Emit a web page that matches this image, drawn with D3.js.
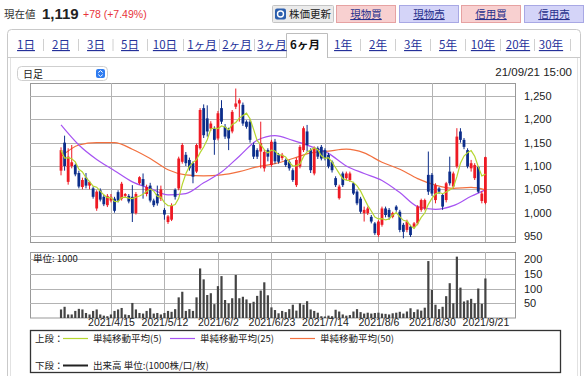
<!DOCTYPE html>
<html>
<head>
<meta charset="utf-8">
<script src="https://cdn.jsdelivr.net/npm/d3@7"></script>
<style>
  body { margin: 0; background: #fff; }
  svg { display: block; font-family: "Noto Sans CJK JP", sans-serif; }
</style>
</head>
<body>
<div id="chart"></div>
<script>
// daily candles, 2021/3/26 .. 2021/9/21 (index 0..119)
const opens = [1090,1150,1066,1100,1102,1085,1055,1075,1058,1052,1009,1048,1034,1016,1026,1030,1044,1030,1036,1036,
  1034,999,1063,1072,1040,1058,1026,1040,1030,1006,980,985,1049,1052,1109,1124,1113,1106,1088,1138,
  1224,1202,1180,1180,1159,1224,1184,1177,1174,1227,1234,1231,1195,1195,1145,1134,1131,1095,1134,1102,
  1152,1124,1117,1113,1109,1091,1059,1099,1134,1174,1134,1084,1138,1141,1134,1124,1109,1074,1031,1084,
  1074,1070,1063,1045,1030,999,999,991,977,952,974,1009,1006,991,1013,1002,974,963,970,970,
  977,1006,1009,1081,1081,1027,1052,1038,1027,1088,1056,1099,1174,1156,1134,1095,1074,1098,1025,1021];
const highs = [1140,1165,1138,1145,1105,1090,1075,1085,1068,1056,1048,1052,1038,1040,1040,1034,1048,1066,1042,1040,
  1059,1044,1078,1084,1060,1064,1030,1058,1058,1010,995,1020,1052,1120,1149,1130,1118,1110,1148,1224,
  1232,1230,1196,1185,1218,1241,1190,1182,1220,1266,1245,1236,1198,1200,1150,1138,1195,1135,1138,1156,
  1158,1128,1128,1116,1112,1095,1118,1145,1185,1188,1138,1142,1142,1145,1138,1128,1112,1078,1060,1088,
  1088,1088,1066,1048,1034,1013,1013,995,980,984,1013,1013,1010,1002,1016,1006,978,985,974,980,
  1016,1030,1030,1131,1085,1063,1055,1042,1066,1120,1088,1181,1181,1160,1138,1113,1106,1100,1046,1120];
const lows = [1080,1090,1060,1095,1078,1052,1050,1052,1050,1030,1004,1024,1014,1012,1022,1000,1022,1026,1032,1020,
  980,996,1060,1030,1035,1022,1012,1015,1025,985,976,982,1028,1048,1105,1100,1090,1063,1085,1135,
  1160,1163,1175,1124,1155,1190,1158,1134,1170,1222,1195,1186,1180,1150,1115,1115,1095,1088,1110,1098,
  1105,1105,1112,1098,1090,1066,1055,1095,1130,1131,1085,1080,1115,1112,1112,1095,1086,1055,1028,1055,
  1070,1066,1038,1016,998,981,995,977,952,948,970,990,985,988,1002,958,945,958,948,966,
  973,1002,1005,1038,1036,1020,1040,1006,1022,1058,1052,1095,1150,1136,1095,1088,1070,1042,1020,1018];
const closes = [1134,1100,1120,1108,1082,1056,1070,1058,1066,1034,1045,1028,1018,1036,1034,1004,1026,1062,1040,1024,
  999,1040,1076,1058,1055,1026,1016,1020,1050,996,992,1016,1034,1116,1145,1106,1095,1077,1145,1220,
  1166,1174,1191,1156,1213,1195,1163,1159,1216,1234,1241,1191,1184,1156,1120,1120,1149,1130,1120,1152,
  1110,1109,1124,1102,1095,1070,1113,1141,1181,1145,1091,1138,1120,1116,1116,1099,1091,1059,1056,1059,
  1084,1084,1041,1020,1002,1006,1009,981,956,981,1009,995,991,999,1006,963,959,981,952,977,
  1013,1027,1027,1045,1041,1059,1045,1013,1063,1063,1084,1163,1156,1141,1099,1106,1102,1045,1041,1119];
const volumes = [29,38,12,12,24,31,29,17,12,24,29,12,8,6,12,24,29,34,12,10,
  51,29,17,15,24,33,15,17,12,17,24,21,30,70,89,24,30,24,70,168,
  131,78,84,47,108,142,61,50,67,146,67,72,63,50,55,75,93,121,77,36,
  27,16,24,20,30,45,25,50,45,57,29,24,18,6,5,8,6,28,22,12,
  8,10,22,30,20,15,18,15,17,18,15,14,12,16,18,21,15,22,33,20,
  29,25,35,193,95,45,30,38,74,118,50,208,103,56,60,65,50,100,48,134];

// moving averages every 5 bars
const maIdx = [0,5,10,15,20,25,30,35,40,45,50,55,60,65,70,75,80,85,90,95,100,105,110,115,119];
const ma25 = [1188,1145,1114,1090,1066,1052,1038,1041,1064,1087,1121,1155,1165,1155,1142,1127,1100,1084,1069,1043,1013,1007,1015,1035,1049];
const ma50 = [1120,1145,1150,1150,1136,1116,1092,1081,1079,1081,1088,1098,1105,1116,1128,1132,1136,1128,1108,1093,1073,1059,1052,1054,1049];

const dateTickIdx = [14,29,44,59,74,89,104,119];
const dateTicks = ["2021/4/15","2021/5/12","2021/6/2","2021/6/23","2021/7/14","2021/8/6","2021/8/30","2021/9/21"];
const priceTicks = [950,1000,1050,1100,1150,1200,1250];
const volTicks = [50,100,150,200];

const periods = ["1日","2日","3日","5日","10日","1ヶ月","2ヶ月","3ヶ月","6ヶ月","1年","2年","3年","5年","10年","20年","30年"];
const periodX = [26,61,96,130,165,202,237,272,305,343,378,413,448,483,518,551];

const width = 586, height = 376;
const upColor = "#ee1a24", downColor = "#0c2d8a";
const numFont = "'Liberation Sans', Arial, sans-serif";

const svg = d3.select("#chart").append("svg")
  .attr("width", width).attr("height", height);

// ---- header ----
svg.append("text").attr("x", 4).attr("y", 18).attr("font-size", 10.5).attr("fill", "#333").text("現在値");
svg.append("text").attr("x", 42).attr("y", 19).attr("font-family", numFont).attr("font-weight", "bold")
  .attr("font-size", 15).attr("fill", "#222").text("1,119");
svg.append("text").attr("x", 83).attr("y", 18).attr("font-family", numFont)
  .attr("font-size", 10.5).attr("fill", "#e8333a").text("+78 (+7.49%)");

// refresh button
svg.append("rect").attr("x", 272.5).attr("y", 5.5).attr("width", 61).attr("height", 17).attr("rx", 1)
  .attr("fill", "#ebebeb").attr("stroke", "#c4c4c4");
svg.append("rect").attr("x", 275).attr("y", 8.5).attr("width", 11).attr("height", 11).attr("rx", 2).attr("fill", "#2c5fae");
svg.append("circle").attr("cx", 280.5).attr("cy", 14).attr("r", 3).attr("fill", "none").attr("stroke", "#fff").attr("stroke-width", 1.4);
svg.append("text").attr("x", 289).attr("y", 18).attr("font-size", 10.5).attr("fill", "#222").text("株価更新");

const buttons = [
  {label: "現物買", x: 336, kind: "buy"},
  {label: "現物売", x: 399, kind: "sell"},
  {label: "信用買", x: 461, kind: "buy"},
  {label: "信用売", x: 524, kind: "sell"}
];
const btn = svg.selectAll(".btn").data(buttons).enter().append("g").attr("class", "btn");
btn.append("rect").attr("x", d => d.x + 0.5).attr("y", 5.5).attr("width", 59).attr("height", 17)
  .attr("fill", d => d.kind === "buy" ? "#f8d0d0" : "#d4d4f8")
  .attr("stroke", d => d.kind === "buy" ? "#e6a2a2" : "#a8a8e4");
btn.append("text").attr("x", d => d.x + 30).attr("y", 18).attr("text-anchor", "middle")
  .attr("font-size", 10.5).attr("fill", "#27318c").attr("text-decoration", "underline").text(d => d.label);

// ---- frame and tabs ----
svg.append("rect").attr("x", 7.5).attr("y", 29.5).attr("width", 573).attr("height", 370).attr("rx", 4)
  .attr("fill", "#fff").attr("stroke", "#c9c9c9");
svg.append("line").attr("x1", 10.5).attr("x2", 10.5).attr("y1", 58).attr("y2", 376).attr("stroke", "#e2e2e2");
svg.append("line").attr("x1", 577.5).attr("x2", 577.5).attr("y1", 58).attr("y2", 376).attr("stroke", "#e2e2e2");
svg.append("path").attr("d", "M8,57.5H286.5M327.5,57.5H580").attr("stroke", "#c9c9c9");
svg.append("path").attr("d", "M286.5,58V33.5H327.5V58").attr("fill", "#fff").attr("stroke", "#bdbdbd");

periods.forEach((p, i) => {
  const sel = p === "6ヶ月";
  svg.append("text").attr("x", periodX[i]).attr("y", 49).attr("text-anchor", "middle")
    .attr("font-size", 11.5)
    .attr("font-weight", sel ? "bold" : "normal")
    .attr("fill", sel ? "#111" : "#25319a")
    .attr("text-decoration", sel ? "none" : "underline")
    .text(p);
  if (i < periods.length - 1 && i !== 7 && i !== 8) {
    svg.append("line").attr("x1", (periodX[i] + periodX[i + 1]) / 2).attr("x2", (periodX[i] + periodX[i + 1]) / 2)
      .attr("y1", 39).attr("y2", 51).attr("stroke", "#d0d0d0");
  }
});
svg.append("line").attr("x1", 570.5).attr("x2", 570.5).attr("y1", 39).attr("y2", 51).attr("stroke", "#d0d0d0");

// dropdown
svg.append("rect").attr("x", 17.5).attr("y", 66.5).attr("width", 90).attr("height", 14).attr("rx", 4)
  .attr("fill", "#fff").attr("stroke", "#cfcfcf");
svg.append("text").attr("x", 23).attr("y", 77.5).attr("font-size", 10).attr("fill", "#222").text("日足");
svg.append("rect").attr("x", 96).attr("y", 69).attr("width", 9).attr("height", 9).attr("rx", 2).attr("fill", "#2f7cf0");
svg.append("path").attr("d", "M98.3,72.6L100.5,70.6L102.7,72.6M98.3,74.6L100.5,76.6L102.7,74.6")
  .attr("fill", "none").attr("stroke", "#fff").attr("stroke-width", 1);
svg.append("text").attr("x", 572).attr("y", 76).attr("text-anchor", "end").attr("font-family", numFont)
  .attr("font-size", 11.5).attr("fill", "#222").text("21/09/21 15:00");

// ---- scales ----
const x = d3.scaleLinear().domain([-8.7, 127.3]).range([30, 515]);
const y = d3.scaleLinear().domain([950, 1250]).range([236, 96]);
const yv = d3.scaleLinear().domain([0, 200]).range([318, 259]);

const gridColor = "#b3b3b3";

// price panel
const pricePanel = svg.append("g");
pricePanel.append("rect").attr("x", 30.5).attr("y", 83.5).attr("width", 485).attr("height", 159)
  .attr("fill", "#fff").attr("stroke", "#999");
pricePanel.selectAll(".hg").data(priceTicks).enter().append("line")
  .attr("x1", 30).attr("x2", 515).attr("y1", d => Math.round(y(d)) + 0.5).attr("y2", d => Math.round(y(d)) + 0.5)
  .attr("stroke", gridColor);
pricePanel.selectAll(".vg").data(dateTickIdx).enter().append("line")
  .attr("x1", d => Math.round(x(d)) + 0.5).attr("x2", d => Math.round(x(d)) + 0.5)
  .attr("y1", 83).attr("y2", 242).attr("stroke", gridColor);

// volume panel
const volPanel = svg.append("g");
volPanel.append("rect").attr("x", 30.5).attr("y", 252.5).attr("width", 485).attr("height", 65.5)
  .attr("fill", "#fff").attr("stroke", "#999");
volPanel.selectAll(".hg").data(volTicks).enter().append("line")
  .attr("x1", 30).attr("x2", 515).attr("y1", d => Math.round(yv(d)) + 0.5).attr("y2", d => Math.round(yv(d)) + 0.5)
  .attr("stroke", gridColor);
volPanel.selectAll(".vg").data(dateTickIdx).enter().append("line")
  .attr("x1", d => Math.round(x(d)) + 0.5).attr("x2", d => Math.round(x(d)) + 0.5)
  .attr("y1", 252).attr("y2", 318).attr("stroke", gridColor);
volPanel.append("text").attr("x", 33).attr("y", 262).attr("font-size", 9.5).attr("fill", "#222").text("単位: 1000");

// axes
const priceAxis = svg.append("g").attr("transform", "translate(515,0)")
  .call(d3.axisRight(y).tickValues(priceTicks).tickSize(0).tickPadding(9).tickFormat(d3.format(",")));
const volAxis = svg.append("g").attr("transform", "translate(515,0)")
  .call(d3.axisRight(yv).tickValues(volTicks).tickSize(0).tickPadding(9));
[priceAxis, volAxis].forEach(a => {
  a.select(".domain").remove();
  a.selectAll("text").attr("font-family", numFont).attr("font-size", 11).attr("fill", "#222");
});
const dateAxis = svg.append("g").attr("transform", "translate(0,318)")
  .call(d3.axisBottom(x).tickValues(dateTickIdx).tickSize(0).tickPadding(1)
    .tickFormat((d, i) => dateTicks[i]));
dateAxis.select(".domain").remove();
dateAxis.selectAll("text").attr("font-family", numFont).attr("font-size", 10.5).attr("fill", "#222");

// ---- volume bars ----
svg.append("g").selectAll("rect").data(volumes).enter().append("rect")
  .attr("x", (d, i) => x(i) - 1.1)
  .attr("y", d => yv(d))
  .attr("width", 2.2)
  .attr("height", d => yv(0) - yv(d))
  .attr("fill", "#444");

// ---- moving averages ----
const ma5 = closes.map((c, i) => d3.mean(closes.slice(Math.max(0, i - 4), i + 1)));
const lineMA = d3.line().x(d => x(d[0])).y(d => y(d[1])).curve(d3.curveMonotoneX);

svg.append("path").datum(maIdx.map((d, k) => [d, ma50[k]]))
  .attr("d", lineMA).attr("fill", "none").attr("stroke", "#f2703f").attr("stroke-width", 1.2);
svg.append("path").datum(maIdx.map((d, k) => [d, ma25[k]]))
  .attr("d", lineMA).attr("fill", "none").attr("stroke", "#a653f2").attr("stroke-width", 1.2);

// ---- candles ----
const candles = svg.append("g").selectAll("g").data(closes).enter().append("g");
candles.append("line")
  .attr("x1", (d, i) => x(i)).attr("x2", (d, i) => x(i))
  .attr("y1", (d, i) => y(highs[i])).attr("y2", (d, i) => y(lows[i]))
  .attr("stroke", (d, i) => d >= opens[i] ? upColor : downColor).attr("stroke-width", 1);
candles.append("rect")
  .attr("x", (d, i) => x(i) - 1.4)
  .attr("y", (d, i) => y(Math.max(d, opens[i])))
  .attr("width", 2.8)
  .attr("height", (d, i) => Math.max(1, Math.abs(y(d) - y(opens[i]))))
  .attr("fill", (d, i) => d >= opens[i] ? upColor : downColor);

svg.append("path").datum(ma5.map((d, i) => [i, d]))
  .attr("d", d3.line().x(d => x(d[0])).y(d => y(d[1])))
  .attr("fill", "none").attr("stroke", "#b5d62e").attr("stroke-width", 1.2);

// ---- legend ----
const legend = svg.append("g");
legend.append("rect").attr("x", 30.5).attr("y", 330.5).attr("width", 530).attr("height", 42)
  .attr("fill", "#fff").attr("stroke", "#333").attr("stroke-width", 1.3);
legend.append("text").attr("x", 35).attr("y", 342).attr("font-size", 9.5).attr("fill", "#222").text("上段：");
legend.append("text").attr("x", 35).attr("y", 369).attr("font-size", 9.5).attr("fill", "#222").text("下段：");
const legendItems = [
  {label: "単純移動平均(5)", color: "#b5d62e", x: 63, row: 0},
  {label: "単純移動平均(25)", color: "#a653f2", x: 170, row: 0},
  {label: "単純移動平均(50)", color: "#f2703f", x: 290, row: 0},
  {label: "出来高 単位:(1000株/口/枚)", color: "#222", x: 63, row: 1}
];
legendItems.forEach(d => {
  const ly = d.row === 0 ? 338.5 : 365.5;
  legend.append("line").attr("x1", d.x).attr("x2", d.x + 25).attr("y1", ly).attr("y2", ly)
    .attr("stroke", d.color).attr("stroke-width", d.row === 0 ? 1.2 : 2);
  legend.append("text").attr("x", d.x + 30).attr("y", ly + 3.5).attr("font-size", 9.5).attr("fill", "#222").text(d.label);
});
</script>
</body>
</html>
